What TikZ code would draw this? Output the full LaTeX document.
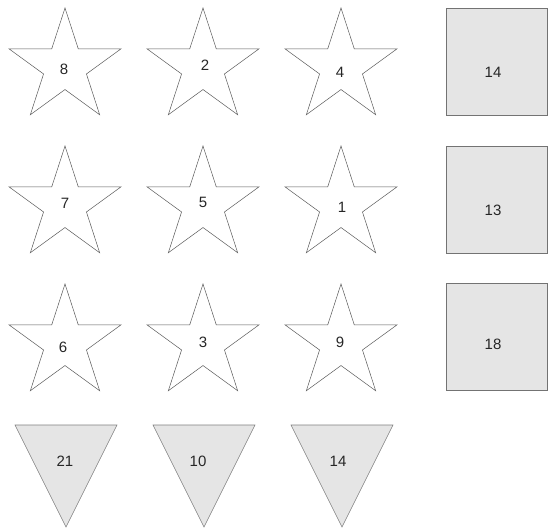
\documentclass[tikz,border=0pt]{standalone}
\usepackage{fontspec}
\setmainfont{Liberation Sans}
\usetikzlibrary{shapes.geometric}

\tikzset{
  starbox/.style={star, star points=5, star point ratio=2.618, minimum size=118pt,
    inner sep=0pt, draw=black!65, line width=0.5pt},
  cellbox/.style={rectangle, draw=black!55, fill=black!10, line width=0.6pt,
    minimum width=101pt, minimum height=107pt, inner sep=0pt},
  tribox/.style={draw=black!50, fill=black!10, line width=0.6pt},
  num/.style={font=\fontsize{15}{18}\selectfont, inner sep=0pt, text=black!85}
}

\begin{document}
\begin{tikzpicture}[x=1pt, y=-1pt]
  \useasboundingbox (0,0) rectangle (548,527);

  % Stars, three rows of three
  \foreach \i/\x/\y in {1/65/67, 2/203/67, 3/341/67,
                        4/65/205, 5/203/205, 6/341/205,
                        7/65/343, 8/203/343, 9/341/343} {
    \node[starbox] (s\i) at (\x,\y) {};
  }
  % Star labels (a little off centre, as drawn)
  \foreach \i/\x/\y/\lab in {1/64/69/8, 2/205/65/2, 3/340/72/4,
                             4/65/203/7, 5/203/202/5, 6/342/207/1,
                             7/63/347/6, 8/203/342/3, 9/340/342/9} {
    \node[num] (n\i) at (\x,\y) {\lab};
  }

  % Grey boxes on the right
  \foreach \i/\y/\lab/\ly in {1/61.5/14/72, 2/200/13/210, 3/337/18/344} {
    \node[cellbox] (b\i) at (496.5,\y) {};
    \node[num] (bl\i) at (493,\ly) {\lab};
  }

  % Downward triangles along the bottom
  \foreach \i/\x/\lx/\lab in {1/66/65/21, 2/204/198/10, 3/342/338/14} {
    \draw[tribox] (\x-51,425) -- (\x+51,425) -- (\x,527) -- cycle;
    \node[num] (t\i) at (\lx,461) {\lab};
  }
\end{tikzpicture}
\end{document}
